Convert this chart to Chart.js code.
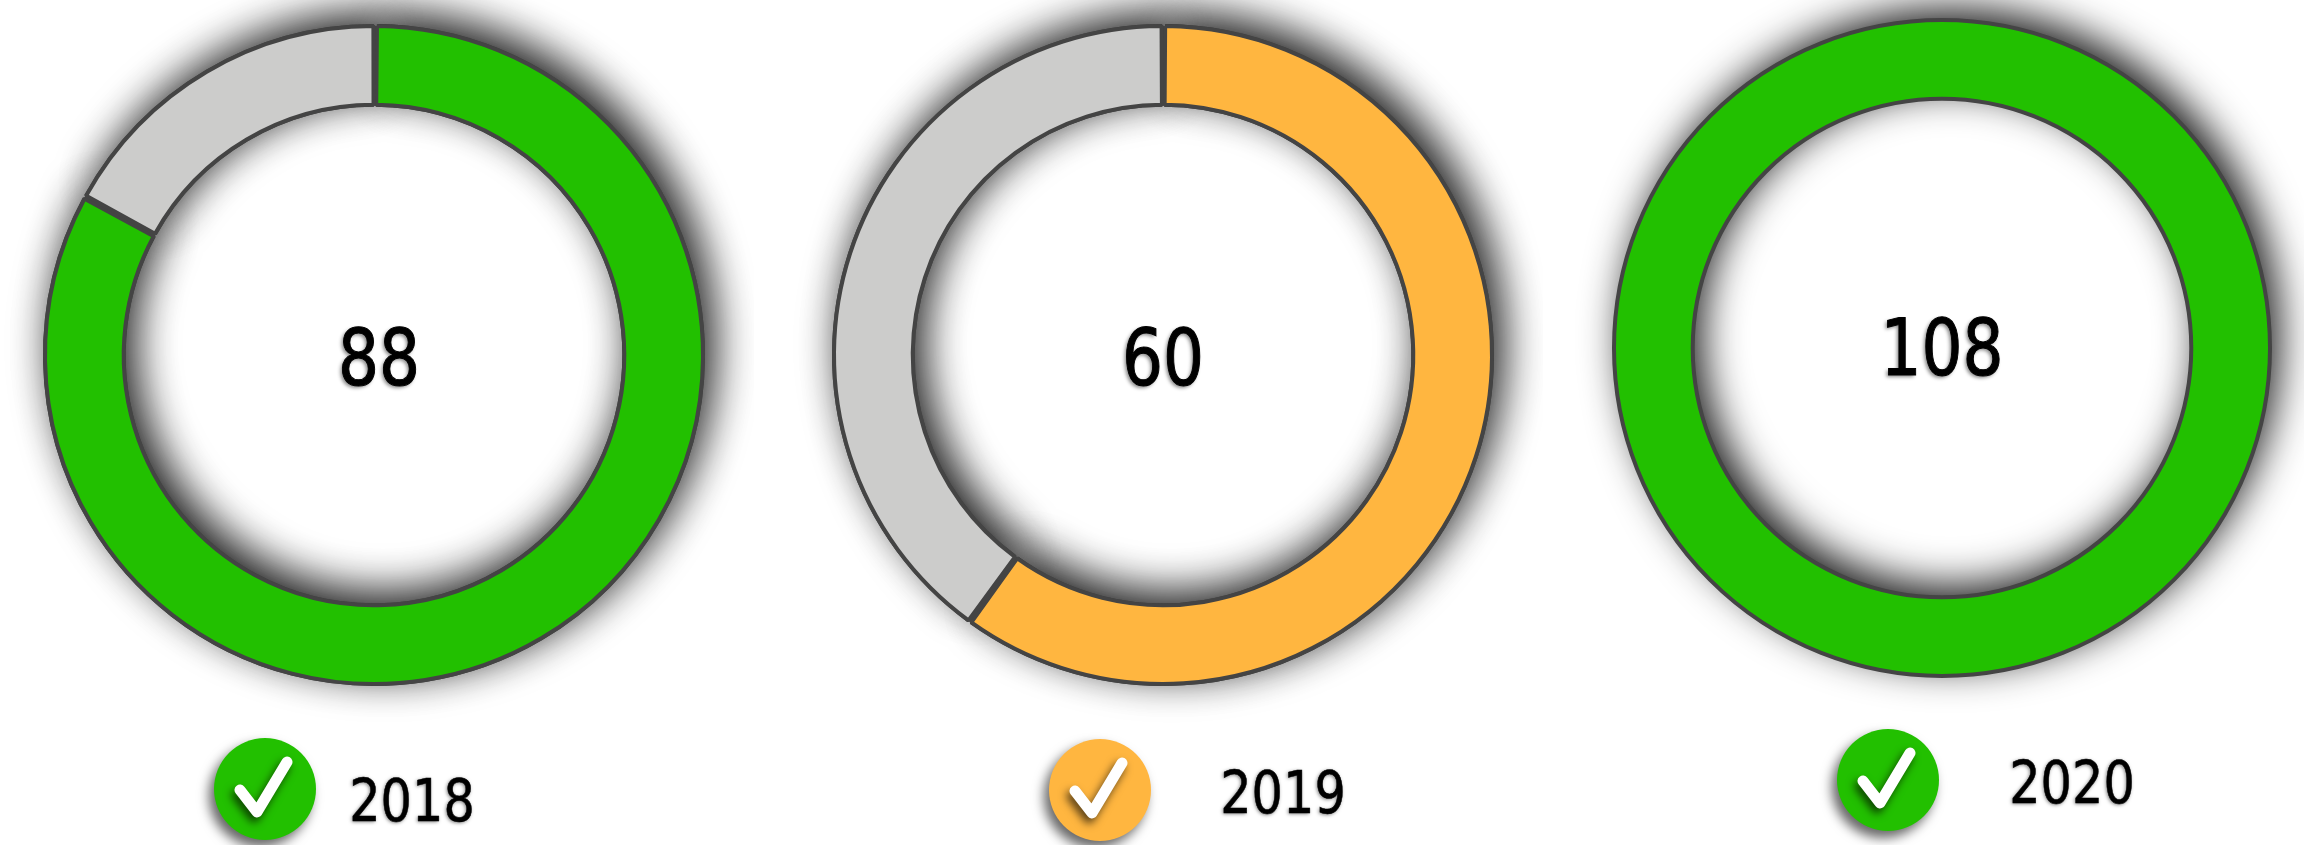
<!DOCTYPE html>
<html><head><meta charset="utf-8">
<script src="https://cdn.jsdelivr.net/npm/chart.js@4"></script>
<style>
html,body{margin:0;padding:0;width:2304px;height:845px;background:#fff;overflow:hidden}
canvas{position:absolute}
.slot{position:absolute;width:760px;height:760px}
.t{position:absolute;font-family:"DejaVu Sans";font-stretch:condensed;color:#000;white-space:nowrap;line-height:1;text-align:center;width:240px;}
.val{font-size:78px;-webkit-text-stroke:1px #000;transform:translate(-50%,-50%) scaleX(.92);text-shadow:-2px 2px 4px rgba(0,0,0,.45)}
.yr{font-size:59px;-webkit-text-stroke:.5px #000;transform:translate(-50%,-50%) scaleX(.93);text-shadow:-1px 1px 4px rgba(0,0,0,.5)}
.badge{position:absolute;width:102px;height:102px;border-radius:50%;transform:translate(-50%,-50%);box-shadow:-5px 7px 12px rgba(0,0,0,.6)}
.badge svg{position:absolute;left:0;top:0;overflow:visible;filter:drop-shadow(-3px 5px 4px rgba(0,0,0,.65))}
</style></head><body>
<script>
const categories = ['2018','2019','2020'];
const scoreValues = [88,60,108];
const remainderValues = [18,40,0];
const segmentColors = ['#22C000','#FFB640','#22C000'];
const remainderColor = '#CCCCCB';
const borderColor = '#444444';
const centersX = [373.5,1163,1941.5];
const centersY = [355,355,348];
const valueX = [379,1163,1941.5];
const valueY = [358,358,348];
const badgeX = [265,1100,1888];
const badgeY = [789,790,780];
const yearX = [412,1283,2072];
const yearY = [800,792,782];
const ringBorder = 4;

const shadowPlugin = {
  id:'ringShadow',
  beforeDatasetsDraw(chart){
    const ctx = chart.ctx;
    ctx.save();
    ctx.shadowColor = 'rgba(0,0,0,0.9)';
    ctx.shadowBlur = 40;
    ctx.shadowOffsetX = 9;
    ctx.shadowOffsetY = -11;
    chart.getDatasetMeta(0).data.forEach(a=>{ if(a.circumference>0) a.draw(ctx); });
    ctx.restore();
  },
  afterDatasetsDraw(chart){
    const arcs = chart.getDatasetMeta(0).data;
    if(arcs.length!==1) return;
    const a = arcs[0], ctx = chart.ctx;
    ctx.save();
    ctx.strokeStyle = borderColor;
    ctx.lineWidth = ringBorder;
    [a.outerRadius,a.innerRadius].forEach(r=>{
      ctx.beginPath();ctx.arc(a.x,a.y,r,0,Math.PI*2);ctx.stroke();
    });
    ctx.restore();
  }
};

categories.forEach((cat,i)=>{
  const slot=document.createElement('div');
  slot.className='slot';
  slot.style.left=(centersX[i]-380)+'px';
  slot.style.top=(centersY[i]-380)+'px';
  const c=document.createElement('canvas');
  c.width=760;c.height=760;
  slot.appendChild(c);
  document.body.appendChild(slot);
  const full = remainderValues[i]===0;
  new Chart(c,{
    type:'doughnut',
    plugins:[shadowPlugin],
    data:{labels:full?[cat]:[cat,'rest'],datasets:[{
      data:full?[scoreValues[i]]:[scoreValues[i],remainderValues[i]],
      backgroundColor:full?[segmentColors[i]]:[segmentColors[i],remainderColor],
      borderColor:borderColor,borderWidth:full?0:ringBorder,borderAlign:'center',spacing:full?0:2
    }]},
    options:{responsive:false,animation:false,radius:328,cutout:'76%',
      layout:{padding:0},
      plugins:{legend:{display:false},tooltip:{enabled:false}}}
  });
  const v=document.createElement('div');
  v.className='t val';v.textContent=String(scoreValues[i]);
  v.style.left=valueX[i]+'px';v.style.top=valueY[i]+'px';
  document.body.appendChild(v);
  const y=document.createElement('div');
  y.className='t yr';y.textContent=cat;
  y.style.left=yearX[i]+'px';y.style.top=yearY[i]+'px';
  document.body.appendChild(y);
  const b=document.createElement('div');
  b.className='badge';b.style.background=segmentColors[i];
  b.style.left=badgeX[i]+'px';b.style.top=badgeY[i]+'px';
  b.innerHTML='<svg width="102" height="102" viewBox="-51 -51 102 102"><polyline points="-25,1 -8,23 22,-27" fill="none" stroke="#fff" stroke-width="11" stroke-linecap="round" stroke-linejoin="round"/></svg>';
  document.body.appendChild(b);
});
</script>
</body></html>
